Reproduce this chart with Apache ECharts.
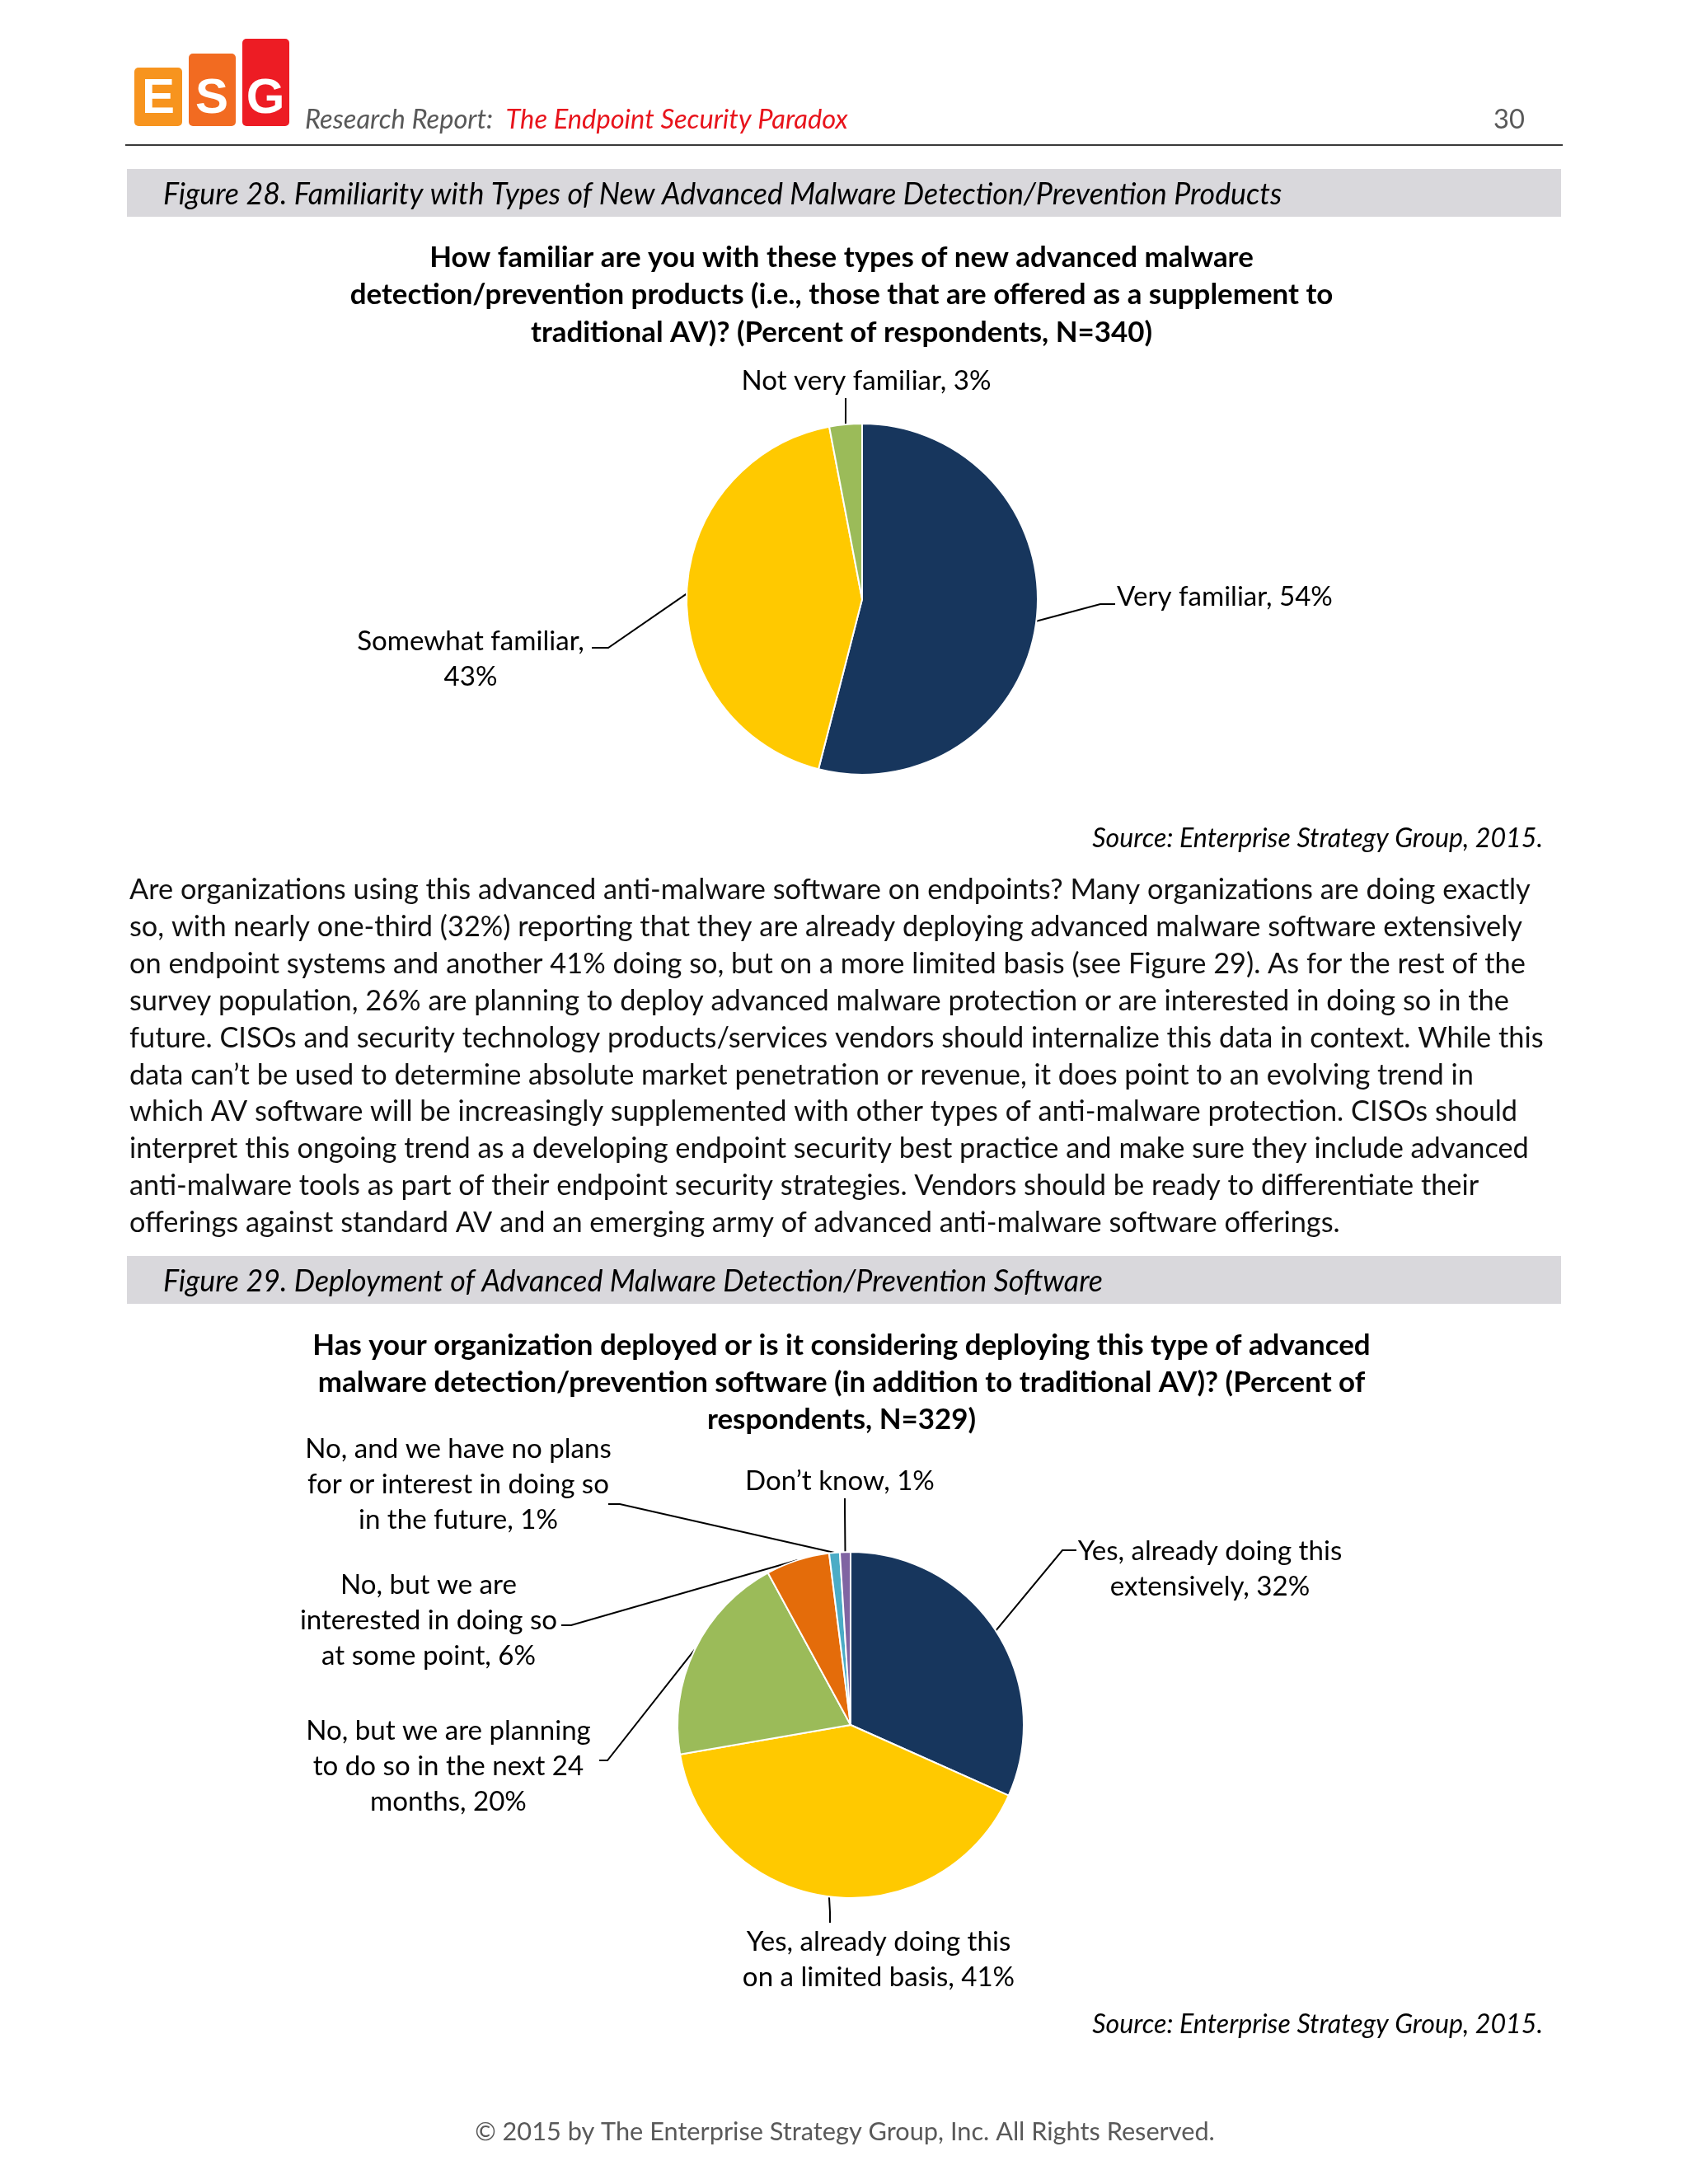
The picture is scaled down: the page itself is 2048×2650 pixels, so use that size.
<!DOCTYPE html>
<html><head><meta charset="utf-8">
<script src="https://cdn.jsdelivr.net/npm/echarts@6/dist/echarts.min.js"></script>
<style>html,body{margin:0;padding:0;background:#fff}#c{width:2048px;height:2650px}</style>
</head><body><div id="c"></div>
<script>
// ---------------- data ----------------
const familiarityCategories = ['Very familiar', 'Somewhat familiar', 'Not very familiar'];
const familiarityValues = [54, 43, 3];
const familiaritySeparators = [', ', ',\n', ', '];

const deploymentCategories = [
  'Yes, already doing this\nextensively',
  'Yes, already doing this\non a limited basis',
  'No, but we are planning\nto do so in the next 24\nmonths',
  'No, but we are\ninterested in doing so\nat some point',
  'No, and we have no plans\nfor or interest in doing so\nin the future',
  'Don\u2019t know'
];
const deploymentValues = [32, 41, 20, 6, 1, 1];

const figure28Caption = 'Figure 28. Familiarity with Types of New Advanced Malware Detection/Prevention Products';
const figure29Caption = 'Figure 29. Deployment of Advanced Malware Detection/Prevention Software';
const question1Lines = [
  'How familiar are you with these types of new advanced malware',
  'detection/prevention products (i.e., those that are offered as a supplement to',
  'traditional AV)? (Percent of respondents, N=340)'
];
const question2Lines = [
  'Has your organization deployed or is it considering deploying this type of advanced',
  'malware detection/prevention software (in addition to traditional AV)? (Percent of',
  'respondents, N=329)'
];
const paragraphLines = [
  'Are organizations using this advanced anti-malware software on endpoints? Many organizations are doing exactly',
  'so, with nearly one-third (32%) reporting that they are already deploying advanced malware software extensively',
  'on endpoint systems and another 41% doing so, but on a more limited basis (see Figure 29). As for the rest of the',
  'survey population, 26% are planning to deploy advanced malware protection or are interested in doing so in the',
  'future. CISOs and security technology products/services vendors should internalize this data in context. While this',
  'data can\u2019t be used to determine absolute market penetration or revenue, it does point to an evolving trend in',
  'which AV software will be increasingly supplemented with other types of anti-malware protection. CISOs should',
  'interpret this ongoing trend as a developing endpoint security best practice and make sure they include advanced',
  'anti-malware tools as part of their endpoint security strategies. Vendors should be ready to differentiate their',
  'offerings against standard AV and an emerging army of advanced anti-malware software offerings.'
];
const sourceText = 'Source: Enterprise Strategy Group, 2015.';
const footerText = '\u00A9 2015 by The Enterprise Strategy Group, Inc. All Rights Reserved.';
const headerLabel = 'Research Report:  ';
const headerTitle = 'The Endpoint Security Paradox';
const pageNumber = '30';

// ---------------- styling / layout ----------------
const F = 'Lato, "Noto Sans", sans-serif';
const colors1 = ['#17365D', '#FFC900', '#9BBB59'];
const colors2 = ['#17365D', '#FFC900', '#9BBB59', '#E46C0A', '#4BACC6', '#8064A2'];
const TEXT_DY = 2;

const ctx = document.createElement('canvas').getContext('2d');
function fit(text, targetW, weight, style) {
  ctx.font = (style || 'normal') + ' ' + (weight || 'normal') + ' 100px ' + F;
  return 100 * targetW / ctx.measureText(text).width;
}
const headerSize = fit(headerLabel + headerTitle, 659, 'normal', 'italic');
const figSize = fit(figure28Caption, 1358, 'normal', 'italic');
const titleSize = fit(question1Lines[1], 1193, 'bold');
const paraSize = fit(paragraphLines[0], 1700);
const labelSize = fit('Very familiar, 54%', 262);
const sourceSize = fit(sourceText, 547, 'normal', 'italic');
const footerSize = fit(footerText, 898);

// label anchors and leader-line elbows (page pixels)
const pie1Layout = [
  {x: 1355, y: 724, align: 'left', pts: [[1335, 733], [1353, 733]]},
  {x: 571, y: 800, align: 'center', pts: [[738, 786], [718, 786]]},
  {x: 1051, y: 462, align: 'center', pts: [[1026, 497], [1026, 483]]}
];
const pie2Layout = [
  {x: 1468, y: 1904, align: 'center', pts: [[1289, 1881], [1306, 1881]]},
  {x: 1066, y: 2378, align: 'center', pts: [[1007, 2320], [1007, 2333]]},
  {x: 544, y: 2143, align: 'center', pts: [[737, 2136], [727, 2136]]},
  {x: 520, y: 1966, align: 'center', pts: [[693, 1972], [681, 1972]]},
  {x: 556, y: 1801, align: 'center', pts: [[752, 1825], [738, 1825]]},
  {x: 1019, y: 1797, align: 'center', pts: [[1025, 1830], [1025, 1818]]}
];

function layoutFn(layout) {
  return function (p) {
    const L = layout[p.dataIndex];
    const start = p.labelLinePoints && p.labelLinePoints[0] ? [p.labelLinePoints[0][0], p.labelLinePoints[0][1]] : L.pts[0];
    return {
      x: L.x, y: L.y, align: L.align, verticalAlign: 'middle',
      labelLinePoints: [start, L.pts[0], L.pts[1]]
    };
  };
}

function pieSeries(center, radius, cats, vals, cols, seps, layout) {
  return {
    type: 'pie', center: center, radius: radius, startAngle: 90, clockwise: true,
    avoidLabelOverlap: false, silent: true, animation: false,
    itemStyle: {borderColor: '#ffffff', borderWidth: 2},
    label: {
      show: true, position: 'outside', color: '#000', fontFamily: F,
      fontSize: labelSize, lineHeight: 43, align: 'center',
      formatter: function (p) { return p.name + (seps ? seps[p.dataIndex] : ', ') + p.value + '%'; }
    },
    labelLine: {show: true, length: 10, length2: 10, smooth: false, lineStyle: {color: '#000', width: 2}},
    labelLayout: layoutFn(layout),
    emphasis: {disabled: true},
    data: cats.map(function (n, i) { return {name: n, value: vals[i], itemStyle: {color: cols[i]}}; })
  };
}

function txt(x, y, text, o) {
  return {
    type: 'text', x: x, y: y + TEXT_DY, silent: true,
    style: Object.assign({text: text, fontFamily: F, fill: '#000', align: 'left', verticalAlign: 'middle'}, o)
  };
}

const LOGO_FONT = '"Liberation Sans", Arial, sans-serif';
const graphic = [
  // logo
  {type: 'rect', shape: {x: 163, y: 82, width: 58, height: 71, r: 5}, style: {fill: '#F7941E'}},
  {type: 'rect', shape: {x: 229, y: 65, width: 57, height: 88, r: 5}, style: {fill: '#F26B21'}},
  {type: 'rect', shape: {x: 294, y: 47, width: 57, height: 106, r: 5}, style: {fill: '#ED1C24'}},
  txt(192, 118, 'E', {fill: '#fff', fontFamily: LOGO_FONT, fontWeight: 'bold', fontSize: 60, align: 'center'}),
  txt(257, 118, 'S', {fill: '#fff', fontFamily: LOGO_FONT, fontWeight: 'bold', fontSize: 60, align: 'center'}),
  txt(322, 118, 'G', {fill: '#fff', fontFamily: LOGO_FONT, fontWeight: 'bold', fontSize: 60, align: 'center'}),
  // header
  txt(370, 143, '{a|' + headerLabel + '}{b|' + headerTitle + '}', {
    fontSize: headerSize, fontStyle: 'italic',
    rich: {
      a: {fill: '#595959', fontSize: headerSize, fontStyle: 'italic', fontFamily: F},
      b: {fill: '#E8141C', fontSize: headerSize, fontStyle: 'italic', fontFamily: F}
    }
  }),
  txt(1850, 143, pageNumber, {fontSize: headerSize, fill: '#595959', align: 'right'}),
  {type: 'line', shape: {x1: 152, y1: 176, x2: 1896, y2: 176}, style: {stroke: '#3a3a3a', lineWidth: 2}},
  // figure 28 bar
  {type: 'rect', shape: {x: 154, y: 205, width: 1740, height: 58}, style: {fill: '#D9D8DC'}},
  txt(198, 234, figure28Caption, {fontSize: figSize, fontStyle: 'italic'}),
  txt(1021, 356, question1Lines.join('\n'), {fontSize: titleSize, fontWeight: 'bold', align: 'center', lineHeight: 45.5}),
  txt(1872, 1016, sourceText, {fontSize: sourceSize, fontStyle: 'italic', align: 'right'}),
  // paragraph
  txt(157, 1055.5, paragraphLines.join('\n'), {fontSize: paraSize, lineHeight: 44.9, verticalAlign: 'top', fill: '#111'}),
  // figure 29 bar
  {type: 'rect', shape: {x: 154, y: 1524, width: 1740, height: 58}, style: {fill: '#D9D8DC'}},
  txt(198, 1553, figure29Caption, {fontSize: figSize, fontStyle: 'italic'}),
  txt(1021, 1676, question2Lines.join('\n'), {fontSize: titleSize, fontWeight: 'bold', align: 'center', lineHeight: 45}),
  txt(1872, 2455, sourceText, {fontSize: sourceSize, fontStyle: 'italic', align: 'right'}),
  // footer
  txt(1025, 2585, footerText, {fontSize: footerSize, fill: '#595959', align: 'center'})
];

const chart = echarts.init(document.getElementById('c'), null, {renderer: 'canvas', width: 2048, height: 2650});
chart.setOption({
  backgroundColor: '#ffffff',
  animation: false,
  graphic: graphic,
  series: [
    pieSeries([1046, 727], 213, familiarityCategories, familiarityValues, colors1, familiaritySeparators, pie1Layout),
    pieSeries([1032, 2093], 210, deploymentCategories, deploymentValues, colors2, null, pie2Layout)
  ]
});
</script>
</body></html>
